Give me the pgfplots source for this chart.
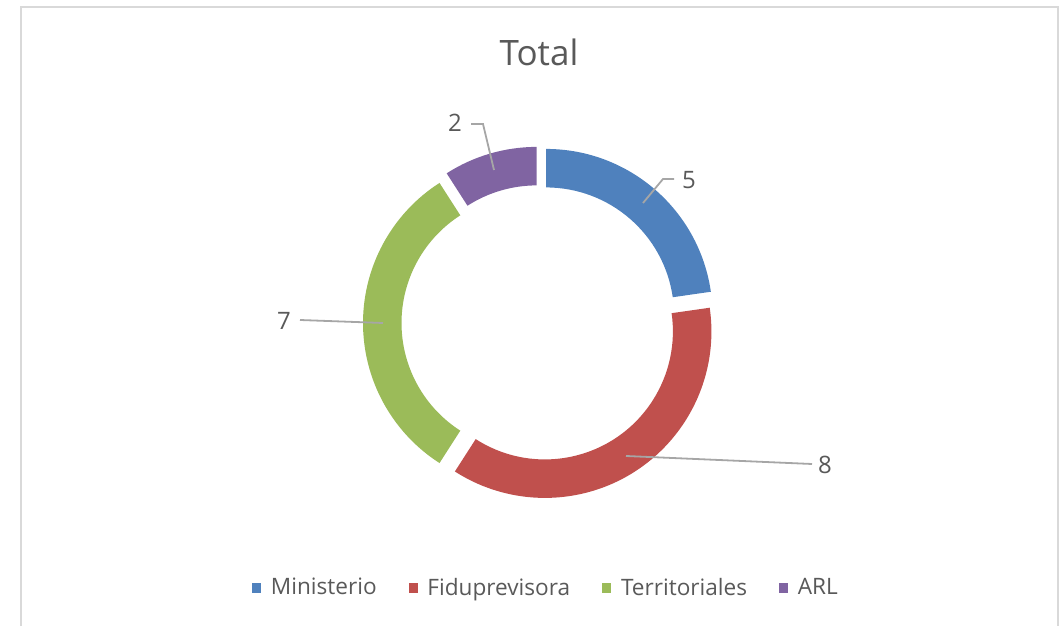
\documentclass[border=0pt]{standalone}
\usepackage{pgfplots}
\pgfplotsset{compat=1.18}
\usepackage{pgfplotstable}
\usepackage{fontspec}
\setmainfont{Open Sans}

\definecolor{c0}{HTML}{4F81BD}
\definecolor{c1}{HTML}{C0504D}
\definecolor{c2}{HTML}{9BBB59}
\definecolor{c3}{HTML}{8064A2}
\definecolor{txt}{HTML}{595959}
\definecolor{lead}{HTML}{A6A6A6}
\definecolor{frame}{HTML}{D9D9D9}

% doughnut data
\pgfplotstableread{
label value
Ministerio 5
Fiduprevisora 8
Territoriales 7
ARL 2
}\donutdata

% angles of the slices, clockwise from the top
\pgfmathsetmacro\total{0}
\pgfplotstablegetrowsof{\donutdata}
\pgfmathtruncatemacro\lastrow{\pgfplotsretval-1}
\foreach \i in {0,...,\lastrow}{%
  \pgfplotstablegetelem{\i}{value}\of\donutdata
  \pgfmathsetmacro\tmp{\total+\pgfplotsretval}%
  \global\let\total\tmp
}
\gdef\cum{0}
\foreach \i in {0,...,\lastrow}{%
  \pgfplotstablegetelem{\i}{value}\of\donutdata
  \let\v\pgfplotsretval
  \pgfmathsetmacro\sa{90-360*\cum/\total}%
  \pgfmathsetmacro\ea{90-360*(\cum+\v)/\total}%
  \pgfmathsetmacro\ma{(\sa+\ea)/2}%
  \expandafter\xdef\csname sa\i\endcsname{\sa}%
  \expandafter\xdef\csname ea\i\endcsname{\ea}%
  \expandafter\xdef\csname ma\i\endcsname{\ma}%
  \pgfmathsetmacro\tmp{\cum+\v}%
  \global\let\cum\tmp
}
\def\SA#1{\csname sa#1\endcsname}
\def\EA#1{\csname ea#1\endcsname}
\def\MA#1{\csname ma#1\endcsname}

\begin{document}
\begin{tikzpicture}
\begin{axis}[
  scale only axis,
  width=529.5pt, height=313pt,
  xmin=0, xmax=1059, ymin=0, ymax=626,
  hide axis, clip=false,
  legend columns=-1,
  legend style={at={(axis cs:547,38)}, anchor=center, draw=none, fill=none,
    font=\fontsize{11.3}{13}\selectfont, text=txt,
    /tikz/every even column/.append style={column sep=14pt},
    /tikz/every odd column/.append style={column sep=2.8pt}},
  legend image code/.code={\fill (0pt,-2.3pt) rectangle (4.6pt,2.3pt);},
]
% fixed page size
\path (axis cs:0,0) rectangle (axis cs:1059,626);
% chart frame
\draw[frame, line width=1pt] (axis cs:21,0) -- (axis cs:21,619) -- (axis cs:1058,619) -- (axis cs:1058,0);

% slices, each pushed out along its middle
\pgfplotsinvokeforeach{0,...,3}{
  \fill[c#1]
    ([shift={(\MA{#1}:5pt)}, shift={(\SA{#1}:83.25pt)}]axis cs:539.5,303)
    arc[start angle=\SA{#1}, end angle=\EA{#1}, radius=83.25pt]
    -- ([shift={(\MA{#1}:5pt)}, shift={(\EA{#1}:64pt)}]axis cs:539.5,303)
    arc[start angle=\EA{#1}, end angle=\SA{#1}, radius=64pt]
    -- cycle;
}

% legend entries
\addlegendimage{fill=c0, draw=none}\addlegendentry{Ministerio}
\addlegendimage{fill=c1, draw=none}\addlegendentry{Fiduprevisora}
\addlegendimage{fill=c2, draw=none}\addlegendentry{Territoriales}
\addlegendimage{fill=c3, draw=none}\addlegendentry{ARL}

% title
\node[anchor=base, text=txt, font=\fontsize{17.5}{21}\selectfont] at (axis cs:539,560) {Total};

% data labels with leader lines
\draw[lead, line width=0.9pt] (axis cs:643,423) -- (axis cs:663,447) -- (axis cs:674,447);
\node[text=txt, font=\fontsize{12}{14}\selectfont] at (axis cs:689,446) {5};
\draw[lead, line width=0.9pt] (axis cs:494,456) -- (axis cs:483,502) -- (axis cs:471,502);
\node[text=txt, font=\fontsize{12}{14}\selectfont] at (axis cs:455,503) {2};
\draw[lead, line width=0.9pt] (axis cs:383,303) -- (axis cs:300,306);
\node[text=txt, font=\fontsize{12}{14}\selectfont] at (axis cs:284,305) {7};
\draw[lead, line width=0.9pt] (axis cs:626,170) -- (axis cs:812,162);
\node[text=txt, font=\fontsize{12}{14}\selectfont] at (axis cs:825,161) {8};
\end{axis}
\end{tikzpicture}
\end{document}
